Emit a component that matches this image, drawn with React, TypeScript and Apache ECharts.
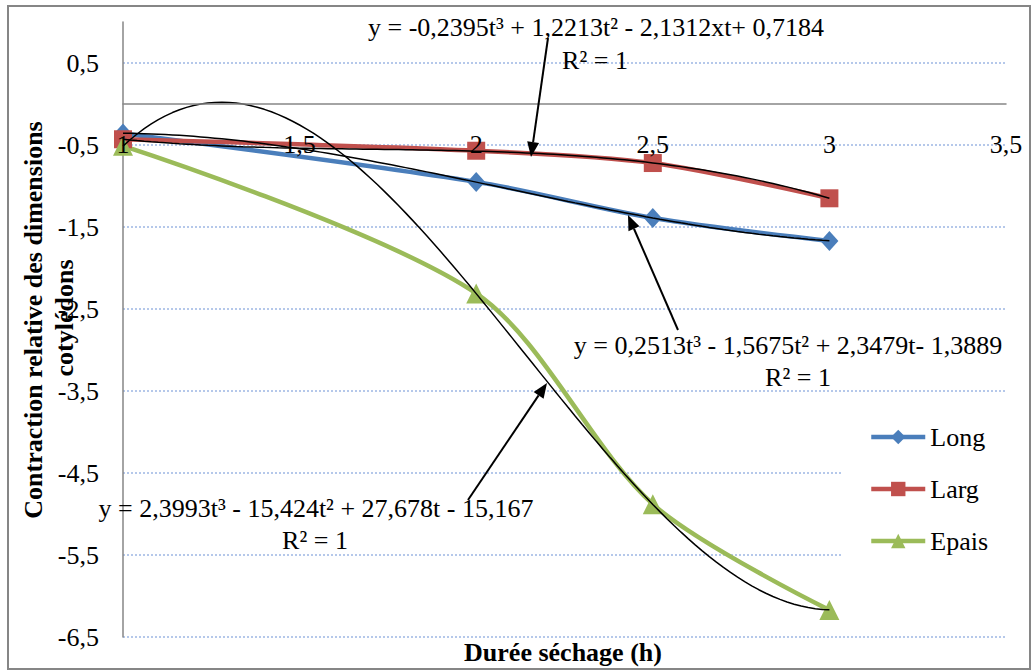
import React, { useEffect, useRef } from 'react';
import * as echarts from 'echarts';

// ---- Data ----
const durations = [1, 2, 2.5, 3];
const longValues = [-0.36, -0.95, -1.39, -1.67];
const largValues = [-0.43, -0.57, -0.72, -1.15];
const epaisValues = [-0.51, -2.31, -4.88, -6.17];
const seriesNames = ['Long', 'Larg', 'Epais'];
const seriesColors = ['#4A7EBB', '#C0504D', '#9BBB59'];

// Cubic trendline coefficients (t^3, t^2, t, 1) as printed on the chart
const trendLong = [0.2513, -1.5675, 2.3479, -1.3889];
const trendLarg = [-0.2395, 1.2213, -2.1312, 0.7184];
const trendEpais = [2.3993, -15.424, 27.678, -15.167];
const trendRange = [1, 3];

const eqLarg = 'y = -0,2395t³ + 1,2213t² - 2,1312xt+ 0,7184';
const eqLong = 'y = 0,2513t³ - 1,5675t² + 2,3479t- 1,3889';
const eqEpais = 'y = 2,3993t³ - 15,424t² + 27,678t - 15,167';
const r2Text = 'R² = 1';

const xTitle = 'Durée séchage (h)';
const yTitle1 = 'Contraction relative des dimensions';
const yTitle2 = 'cotylédons';

const FONT = '"Liberation Serif", "Times New Roman", serif';
const FONT_NAME = 'Liberation Serif';

function trendPoints(c: number[]) {
  const pts: number[][] = [];
  const n = 100;
  for (let i = 0; i <= n; i++) {
    const t = trendRange[0] + ((trendRange[1] - trendRange[0]) * i) / n;
    pts.push([t, c[0] * t * t * t + c[1] * t * t + c[2] * t + c[3]]);
  }
  return pts;
}

function arrow(x1: number, y1: number, x2: number, y2: number) {
  const a = Math.atan2(y2 - y1, x2 - x1);
  const len = 15;
  const w = 6;
  const c = Math.cos(a);
  const s = Math.sin(a);
  const bx = x2 - len * c;
  const by = y2 - len * s;
  return [
    { type: 'line', z: 50, shape: { x1, y1, x2: bx, y2: by }, style: { stroke: '#000', lineWidth: 2 } },
    {
      type: 'polygon',
      z: 50,
      shape: { points: [[x2, y2], [bx - w * s, by + w * c], [bx + w * s, by - w * c]] },
      style: { fill: '#000' },
    },
  ];
}

function label(text: string, x: number, y: number, bold = false, rotation = 0) {
  return {
    type: 'text',
    z: 50,
    x,
    y,
    rotation,
    style: {
      text,
      font: `${bold ? 'bold ' : ''}26px ${FONT}`,
      fill: '#000',
      align: 'center',
      verticalAlign: 'middle',
      textAlign: 'center',
      textVerticalAlign: 'middle',
    },
  };
}

const fmt = (v: number) => String(v).replace('.', ',');

export default function App() {
  const ref = useRef<HTMLDivElement>(null);
  useEffect(() => {
    if (!ref.current) return;
    const chart = echarts.init(ref.current, null, { renderer: 'svg' });
    const mk = (name: string, vals: number[], color: string, symbol: string, size: any) => ({
      name,
      type: 'line',
      data: durations.map((d, i) => [d, vals[i]]),
      smooth: 0.3,
      symbol,
      symbolSize: size,
      showAllSymbol: true,
      lineStyle: { width: 4.5, color },
      itemStyle: { color },
      emphasis: { disabled: true },
      z: 2,
    });
    const trend = (vals: number[]) => ({
      type: 'line',
      data: trendPoints(vals),
      symbol: 'none',
      showSymbol: false,
      lineStyle: { width: 1.5, color: '#000' },
      itemStyle: { color: '#000' },
      emphasis: { disabled: true },
      silent: true,
      z: 3,
    });
    chart.setOption({
      animation: false,
      backgroundColor: '#fff',
      textStyle: { fontFamily: FONT_NAME },
      grid: { left: 123, right: 28, top: 22, bottom: 34, containLabel: false, outerBoundsMode: 'none' },
      xAxis: {
        type: 'value',
        min: 1,
        max: 3.5,
        interval: 0.5,
        offset: -533,
        z: 5,
        axisLine: { show: true, onZero: false, lineStyle: { color: '#868686', width: 1.5 } },
        axisTick: { show: false },
        splitLine: { show: false },
        axisLabel: {
          margin: 27,
          color: '#000',
          fontFamily: FONT_NAME,
          fontSize: 26,
          showMinLabel: true,
          showMaxLabel: true,
          hideOverlap: false,
          formatter: (v: number) => fmt(v),
        },
      },
      yAxis: {
        type: 'value',
        min: -6.5,
        max: 1,
        interval: 1,
        axisLine: { show: true, onZero: false, lineStyle: { color: '#868686', width: 1.5 } },
        axisTick: { show: false },
        splitLine: {
          show: true,
          showMaxLine: false,
          lineStyle: { color: '#9db6e4', width: 1.5, type: [2, 2] },
        },
        axisLabel: {
          margin: 24,
          color: '#000',
          fontFamily: FONT_NAME,
          fontSize: 26,
          showMaxLabel: false,
          formatter: (v: number) => (v === 1 ? '' : fmt(v)),
        },
      },
      legend: {
        data: seriesNames,
        orient: 'vertical',
        left: 842,
        top: 408,
        padding: [16, 30, 40, 27],
        backgroundColor: '#fff',
        itemWidth: 54,
        itemHeight: 18,
        itemGap: 26,
        lineStyle: { width: 4.5 },
        textStyle: { fontFamily: FONT_NAME, fontSize: 26, color: '#000' },
        z: 10,
      },
      series: [
        mk(seriesNames[0], longValues, seriesColors[0], 'diamond', [18, 20]),
        mk(seriesNames[1], largValues, seriesColors[1], 'rect', 18),
        mk(seriesNames[2], epaisValues, seriesColors[2], 'triangle', 20),
        trend(trendLong),
        trend(trendLarg),
        trend(trendEpais),
      ],
      graphic: [
        {
          type: 'rect',
          z: 100,
          shape: { x: 8, y: 6, width: 1022, height: 663 },
          style: { fill: 'none', stroke: '#868686', lineWidth: 2 },
          silent: true,
        },
        label(eqLarg, 596, 27),
        label(r2Text, 595, 60),
        label(eqLong, 788, 345),
        label(r2Text, 798, 377),
        label(eqEpais, 316, 508),
        label(r2Text, 315, 540),
        label(xTitle, 563, 652, true),
        label(yTitle1, 33, 320, true, Math.PI / 2),
        label(yTitle2, 64, 318, true, Math.PI / 2),
        ...arrow(548, 38, 531, 157),
        ...arrow(678, 330, 628, 215),
        ...arrow(468, 500, 547, 383),
      ],
    });
    return () => chart.dispose();
  }, []);
  return (
    <div
      ref={ref}
      style={{ position: 'absolute', left: 0, top: 0, width: 1034, height: 671 }}
    />
  );
}
